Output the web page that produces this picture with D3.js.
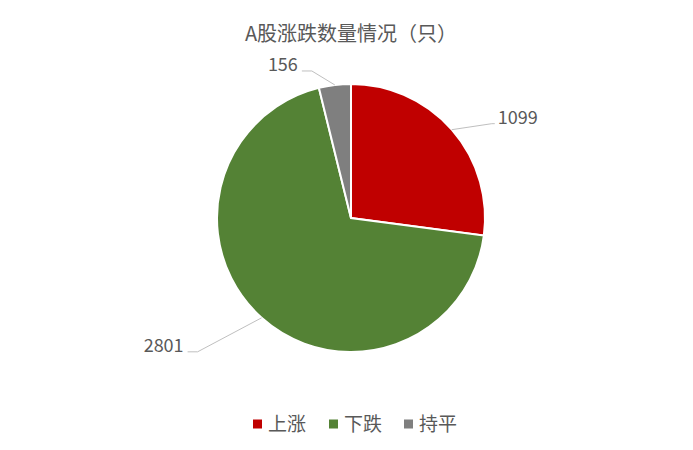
<!DOCTYPE html>
<html>
<head>
<meta charset="utf-8">
<script src="https://cdn.jsdelivr.net/npm/d3@7"></script>
<style>
  body { margin: 0; background: #fff; }
  svg { display: block; }
</style>
</head>
<body>
<svg id="chart"></svg>
<script>
// chart data
const categories = ["上涨", "下跌", "持平"];
const counts = [1099, 2801, 156];
const colors = ["#C00000", "#548235", "#7F7F7F"];
const title = "A股涨跌数量情况（只）";

// where each leader line bends, relative to the point on the slice edge,
// and how long the short horizontal tail is
const labelBend = [[40, -6], [-64, 34], [-23, -14]];
const labelTail = [3, 10, 10];

const width = 693, height = 450;
const cx = 351, cy = 218, radius = 134;
const font = "'Noto Sans CJK SC', 'Liberation Sans', sans-serif";

const svg = d3.select("#chart")
    .attr("width", width)
    .attr("height", height)
    .attr("font-family", font);

svg.append("text")
    .attr("x", cx)
    .attr("y", 41)
    .attr("text-anchor", "middle")
    .attr("font-size", 20)
    .attr("fill", "#595959")
    .text(title);

const data = categories.map((c, i) => ({
    name: c, value: counts[i], color: colors[i], bend: labelBend[i], tail: labelTail[i]
}));

const pie = d3.pie()
    .value(d => d.value)
    .sort(null);

const arc = d3.arc()
    .innerRadius(0)
    .outerRadius(radius);

const arcs = pie(data);

const g = svg.append("g")
    .attr("transform", `translate(${cx},${cy})`);

g.selectAll("path.slice")
    .data(arcs)
    .join("path")
    .attr("class", "slice")
    .attr("d", arc)
    .attr("fill", d => d.data.color)
    .attr("stroke", "#fff")
    .attr("stroke-width", 2);

// leader lines + value labels
arcs.forEach(d => {
    const mid = (d.startAngle + d.endAngle) / 2;
    const p0 = [radius * Math.sin(mid), -radius * Math.cos(mid)];
    const p1 = [p0[0] + d.data.bend[0], p0[1] + d.data.bend[1]];
    const right = p1[0] > 0;
    const p2 = [p1[0] + (right ? d.data.tail : -d.data.tail), p1[1]];

    g.append("polyline")
        .attr("points", [p0, p1, p2].map(p => p.join(",")).join(" "))
        .attr("fill", "none")
        .attr("stroke", "#BFBFBF")
        .attr("stroke-width", 1);

    g.append("text")
        .attr("x", p2[0] + (right ? 3 : -4))
        .attr("y", p2[1] - 6)
        .attr("dy", "0.35em")
        .attr("text-anchor", right ? "start" : "end")
        .attr("font-size", 18)
        .attr("fill", "#595959")
        .text(d3.format("d")(d.data.value));
});

// legend
const legendX = [253, 329, 404];
const legend = svg.append("g")
    .selectAll("g")
    .data(data)
    .join("g")
    .attr("transform", (d, i) => `translate(${legendX[i]},424)`);

legend.append("rect")
    .attr("x", 0)
    .attr("y", -4.5)
    .attr("width", 9)
    .attr("height", 9)
    .attr("fill", d => d.color);

legend.append("text")
    .attr("x", 15)
    .attr("y", 0)
    .attr("dy", "0.35em")
    .attr("font-size", 19)
    .attr("fill", "#595959")
    .text(d => d.name);
</script>
</body>
</html>
